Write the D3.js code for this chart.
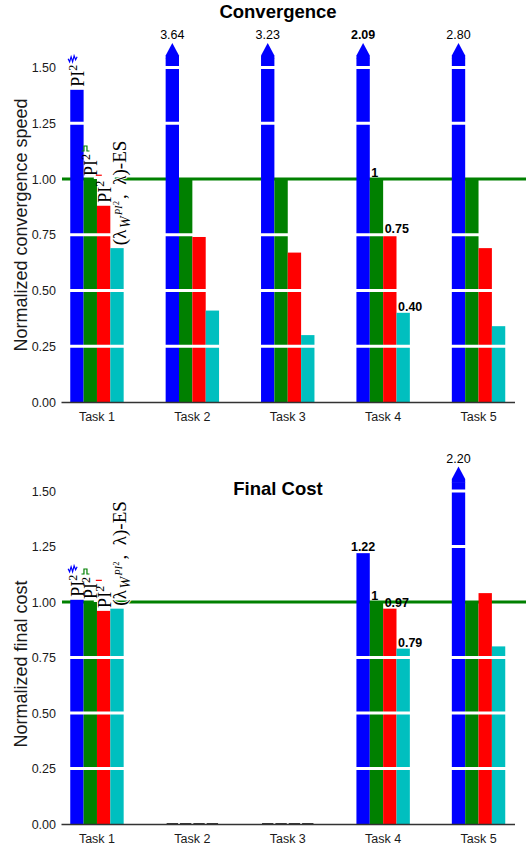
<!DOCTYPE html>
<html>
<head>
<meta charset="utf-8">
<script src="https://cdn.jsdelivr.net/npm/d3@7"></script>
<style>
  body { margin: 0; background: #fff; }
</style>
</head>
<body>
<svg id="chart"></svg>
<script>
// categories and series
const tasks = ["Task 1", "Task 2", "Task 3", "Task 4", "Task 5"];
const seriesColors = ["#0000ff", "#008000", "#ff0000", "#00bfbf"];
const yTicks = [0, 0.25, 0.5, 0.75, 1, 1.25, 1.5];
const whiteLines = [0.25, 0.5, 0.75, 1.25, 1.5];

// convergence speed (normalized)
const convBlue  = [1.40, 3.64, 3.23, 2.09, 2.80];
const convGreen = [1.00, 1.00, 1.00, 1.00, 1.00];
const convRed   = [0.88, 0.74, 0.67, 0.75, 0.69];
const convCyan  = [0.69, 0.41, 0.30, 0.40, 0.34];

// final cost (normalized)
const costBlue  = [1.01, 0, 0, 1.22, 2.20];
const costGreen = [1.00, 0, 0, 1.00, 1.00];
const costRed   = [0.96, 0, 0, 0.97, 1.04];
const costCyan  = [0.97, 0, 0, 0.79, 0.80];

const labelledTask = "Task 4";
const capValue = 1.54;   // bars above this get an arrow
const tipValue = 1.61;

const width = 528;
const height = 848;
const sans = "'Liberation Sans', Arial, Helvetica, sans-serif";
const serif = "'Liberation Serif', 'DejaVu Serif', serif";

const svg = d3.select("#chart").attr("width", width).attr("height", height);

const x = d3.scaleBand().domain(tasks).range([61, 514.5]).paddingInner(0.44).paddingOuter(0.097);
const xi = d3.scaleBand().domain([0, 1, 2, 3]).range([0, x.bandwidth()]);
const bw = xi.bandwidth();

const fmt = v => v === 1 ? "1" : v.toFixed(2);

const drawPanel = (p) => {
    const y = d3.scaleLinear().domain([0, 1]).range([p.base, p.one]);
    const g = svg.append("g");

    // layers
    const gLine = g.append("g");
    const gBox = g.append("g");
    const gBars = g.append("g");
    const gGrid = g.append("g");
    const gText = g.append("g");

    // title
    gText.append("text")
        .attr("x", 278).attr("y", p.titleY)
        .attr("text-anchor", "middle")
        .attr("font-family", sans).attr("font-size", 18.5).attr("font-weight", "bold")
        .text(p.title);

    // y axis (labels only)
    const ya = gText.append("g")
        .attr("transform", "translate(61,0)")
        .call(d3.axisLeft(y).tickValues(yTicks).tickSize(0).tickPadding(5).tickFormat(d3.format(".2f")));
    ya.select(".domain").remove();
    ya.selectAll("text").attr("font-family", sans).attr("font-size", 12.5).attr("fill", "#1a1a1a");

    gText.append("text")
        .attr("transform", `translate(27,${p.yTitleY}) rotate(-90)`)
        .attr("text-anchor", "middle")
        .attr("font-family", sans).attr("font-size", 18).attr("fill", "#1a1a1a")
        .text(p.yTitle);

    // x axis
    const xa = gText.append("g")
        .attr("transform", `translate(0,${p.base})`)
        .call(d3.axisBottom(x).tickSize(0).tickSizeOuter(0).tickPadding(10));
    xa.select(".domain").attr("stroke", "#333").attr("stroke-width", 1.3);
    xa.selectAll("text").attr("font-family", sans).attr("font-size", 12.5).attr("fill", "#1a1a1a");

    // reference line at 1
    gLine.append("line")
        .attr("x1", 62).attr("x2", 526)
        .attr("y1", y(1)).attr("y2", y(1))
        .attr("stroke", "#008000").attr("stroke-width", 3);

    const cells = [];
    p.series.forEach((vals, s) => {
        vals.forEach((v, i) => cells.push({ s, task: tasks[i], v }));
    });

    // bars
    gBars.selectAll("rect")
        .data(cells.filter(d => d.v > 0))
        .join("rect")
        .attr("x", d => x(d.task) + xi(d.s))
        .attr("width", bw)
        .attr("y", d => y(Math.min(d.v, capValue)))
        .attr("height", d => y(0) - y(Math.min(d.v, capValue)))
        .attr("fill", d => seriesColors[d.s]);

    // arrows for clipped bars
    gBars.selectAll("path.arrow")
        .data(cells.filter(d => d.v > capValue))
        .join("path")
        .attr("class", "arrow")
        .attr("fill", d => seriesColors[d.s])
        .attr("d", d => {
            const x0 = x(d.task) + xi(d.s), x1 = x0 + bw, yc = y(capValue), yt = y(tipValue);
            return `M${x0},${yc + 0.5}L${x0},${yc - 3}L${(x0 + x1) / 2},${yt}L${x1},${yc - 3}L${x1},${yc + 0.5}Z`;
        });

    // zero values
    gBars.selectAll("line.zero")
        .data(cells.filter(d => d.v === 0))
        .join("line")
        .attr("class", "zero")
        .attr("x1", d => x(d.task) + xi(d.s) + 1)
        .attr("x2", d => x(d.task) + xi(d.s) + bw - 1)
        .attr("y1", y(0)).attr("y2", y(0))
        .attr("stroke", "#222").attr("stroke-width", 1.8);

    // white grid lines over the bars
    gGrid.selectAll("line")
        .data(whiteLines)
        .join("line")
        .attr("x1", 62).attr("x2", 516)
        .attr("y1", d => y(d)).attr("y2", d => y(d))
        .attr("stroke", "#fff").attr("stroke-width", 3);

    // values above the arrows
    gText.selectAll("text.arrowval")
        .data(cells.filter(d => d.v > capValue))
        .join("text")
        .attr("class", "arrowval")
        .attr("x", d => x(d.task) + xi(d.s) + bw / 2)
        .attr("y", y(tipValue) - 4)
        .attr("text-anchor", "middle")
        .attr("font-family", sans).attr("font-size", 12.5)
        .attr("font-weight", d => d.task === labelledTask ? "bold" : "normal")
        .text(d => fmt(d.v));

    // values for the labelled task
    gText.selectAll("text.val")
        .data(cells.filter(d => d.task === labelledTask && d.v <= capValue))
        .join("text")
        .attr("class", "val")
        .attr("x", d => d.s === 0 ? x(d.task) + xi(d.s) + bw / 2 : x(d.task) + xi(d.s) + 1.5)
        .attr("y", d => y(d.v) - 2)
        .attr("text-anchor", d => d.s === 0 ? "middle" : "start")
        .attr("font-family", sans).attr("font-size", 12.5).attr("font-weight", "bold")
        .text(d => fmt(d.v));

    // method labels on the first task
    const first = tasks[0];
    const icons = [
        "M0,3L1.5,6L3,1L4.5,6L6,0L7.5,4L9,1",
        "M0,6L2.5,6L2.5,1L5.5,1L5.5,6L8,6",
        "M1,3.5L7,3.5"
    ];
    [0, 1, 2].forEach(s => {
        const v = p.series[s][0];
        const xr = x(first) + xi(s) + bw + 0.5;
        const yb = y(v) - 3;
        const tr = `translate(${xr},${yb}) rotate(-90)`;
        const t = gText.append("text")
            .attr("transform", tr)
            .attr("font-family", serif).attr("font-size", 18);
        t.append("tspan").text("PI");
        t.append("tspan").attr("font-size", 12).attr("dy", -7).text("2");
        const L = t.node().getComputedTextLength();
        gBox.append("rect")
            .attr("transform", tr)
            .attr("x", -1).attr("y", -17)
            .attr("width", L + 11).attr("height", 21)
            .attr("fill", "#fff");
        gText.append("path")
            .attr("transform", `translate(${xr - 16},${yb - L - 9})`)
            .attr("d", icons[s])
            .attr("fill", "none")
            .attr("stroke", seriesColors[s]).attr("stroke-width", 1.2);
    });

    // cyan method label
    const vc = p.series[3][0];
    const es = gText.append("text")
        .attr("transform", `translate(${x(first) + xi(3) + bw + 2.5},${y(vc) - 3}) rotate(-90)`)
        .attr("font-family", serif).attr("font-size", 19)
        .attr("stroke", "#fff").attr("stroke-width", 2).attr("paint-order", "stroke");
    es.append("tspan").text("(\u03bb");
    es.append("tspan").attr("font-size", 14).attr("font-style", "italic").attr("dy", 4).attr("dx", 1.5).text("W");
    es.append("tspan").attr("font-size", 10).attr("font-style", "italic").attr("dy", -8).attr("dx", 1.5).text("PI");
    es.append("tspan").attr("font-size", 8).attr("dy", -3).attr("dx", 0.5).text("2");
    es.append("tspan").attr("dy", 7).attr("dx", 2).text(",\u2002\u03bb)-ES");
};

drawPanel({
    base: 402, one: 179,
    title: "Convergence", titleY: 18,
    yTitle: "Normalized convergence speed", yTitleY: 225,
    series: [convBlue, convGreen, convRed, convCyan]
});

drawPanel({
    base: 824, one: 602,
    title: "Final Cost", titleY: 494.5,
    yTitle: "Normalized final cost", yTitleY: 664,
    series: [costBlue, costGreen, costRed, costCyan]
});
</script>
</body>
</html>
